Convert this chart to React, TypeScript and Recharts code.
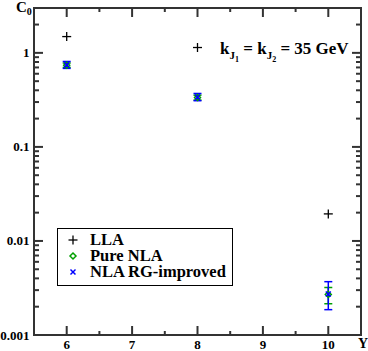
import { ScatterChart, Scatter, XAxis, YAxis, ErrorBar, ReferenceArea } from "recharts";

const rapidity = [6, 8, 10];
const llaValues = [1.49, 1.14, 0.0194];
const pureNlaValues = [0.74, 0.335, 0.0027];
const pureNlaErrLow = [0.04, 0.02, 0.00055];
const pureNlaErrHigh = [0.04, 0.02, 0.0005];
const rgValues = [0.745, 0.34, 0.00273];
const rgErrLow = [0.061, 0.03, 0.00087];
const rgErrHigh = [0.065, 0.03, 0.00096];

const xTicks = [6, 6.5, 7, 7.5, 8, 8.5, 9, 9.5, 10];
const xMajor = [6, 7, 8, 9, 10];
const yTicks = [
  0.001, 0.002, 0.003, 0.004, 0.005, 0.006, 0.007, 0.008, 0.009,
  0.01, 0.02, 0.03, 0.04, 0.05, 0.06, 0.07, 0.08, 0.09,
  0.1, 0.2, 0.3, 0.4, 0.5, 0.6, 0.7, 0.8, 0.9,
  1, 2, 3,
];
const yMajor = [0.001, 0.01, 0.1, 1];
const yMajorLabels = ["0.001", "0.01", "0.1", "1"];
const seriesNames = ["LLA", "Pure NLA", "NLA RG-improved"];

const W = 368;
const H = 351;
const LEFT = 34;
const TOP = 8;
const RIGHT = 361;
const BOTTOM = 335;
const FRAME = "#333";
const FONT = "'Liberation Serif', 'Times New Roman', serif";

const llaData = rapidity.map((x, i) => ({ x, y: llaValues[i] }));
const pureData = rapidity.map((x, i) => ({ x, y: pureNlaValues[i], err: [pureNlaErrLow[i], pureNlaErrHigh[i]] }));
const rgData = rapidity.map((x, i) => ({ x, y: rgValues[i], err: [rgErrLow[i], rgErrHigh[i]] }));

const XTick = (props: any) => {
  const { x, payload } = props;
  const major = xMajor.includes(payload.value);
  const len = major ? 9 : 4;
  return (
    <g>
      <line x1={x} x2={x} y1={BOTTOM} y2={BOTTOM - len} stroke={FRAME} strokeWidth={2} />
      <line x1={x} x2={x} y1={TOP} y2={TOP + len} stroke={FRAME} strokeWidth={2} />
      {major && (
        <text x={x} y={349} textAnchor="middle" fontFamily={FONT} fontWeight="bold" fontSize={13} fill="#000">
          {payload.value}
        </text>
      )}
    </g>
  );
};

const YTick = (props: any) => {
  const { y, payload } = props;
  const idx = yMajor.indexOf(payload.value);
  const major = idx >= 0;
  const len = major ? 9 : 5;
  return (
    <g>
      <line x1={LEFT} x2={LEFT + len} y1={y} y2={y} stroke={FRAME} strokeWidth={2} />
      <line x1={RIGHT} x2={RIGHT - len} y1={y} y2={y} stroke={FRAME} strokeWidth={2} />
      {major && (
        <text x={29.5} y={y + 4.5} textAnchor="end" fontFamily={FONT} fontWeight="bold" fontSize={13} fill="#000">
          {yMajorLabels[idx]}
        </text>
      )}
    </g>
  );
};

const PlusShape = (props: any) => {
  const { cx, cy } = props;
  return (
    <g>
      <line x1={cx - 4.5} x2={cx + 4.5} y1={cy} y2={cy} stroke="#000" strokeWidth={1.3} />
      <line x1={cx} x2={cx} y1={cy - 4.5} y2={cy + 4.5} stroke="#000" strokeWidth={1.3} />
    </g>
  );
};

const DiamondShape = (props: any) => {
  const { cx, cy } = props;
  return (
    <path
      d={`M${cx},${cy - 3} L${cx + 3},${cy} L${cx},${cy + 3} L${cx - 3},${cy} Z`}
      fill="none"
      stroke="#00a000"
      strokeWidth={1.5}
    />
  );
};

const CrossShape = (props: any) => {
  const { cx, cy } = props;
  return (
    <g>
      <line x1={cx - 2.5} x2={cx + 2.5} y1={cy - 2.5} y2={cy + 2.5} stroke="#0000ff" strokeWidth={1.5} />
      <line x1={cx - 2.5} x2={cx + 2.5} y1={cy + 2.5} y2={cy - 2.5} stroke="#0000ff" strokeWidth={1.5} />
    </g>
  );
};

const legendIcons = [
  <PlusShape cx={6} cy={6} />,
  <DiamondShape cx={6} cy={6} />,
  <CrossShape cx={6} cy={6} />,
];

const sub = (main: string, s: string) => (
  <span style={{ position: "relative" }}>
    {main}
    <span style={{ fontSize: 11, position: "relative", top: 5 }}>
      J<span style={{ fontSize: 8, position: "relative", top: 3 }}>{s}</span>
    </span>
  </span>
);

const App = () => (
  <div style={{ position: "absolute", left: 0, top: 0, width: W, height: H, background: "#fff" }}>
    <ScatterChart width={W} height={H} margin={{ top: TOP, right: W - RIGHT, bottom: 0, left: 0 }}>
      <XAxis
        dataKey="x"
        type="number"
        domain={[5.5, 10.5]}
        ticks={xTicks}
        interval={0}
        height={H - BOTTOM}
        tickLine={false}
        axisLine={false}
        tick={<XTick />}
        allowDataOverflow
      />
      <YAxis
        dataKey="y"
        type="number"
        scale="log"
        domain={[0.001, 3]}
        ticks={yTicks}
        interval={0}
        width={LEFT}
        tickLine={false}
        axisLine={false}
        tick={<YTick />}
        allowDataOverflow
      />
      <ReferenceArea x1={5.5} x2={10.5} y1={0.001} y2={3} fill="none" stroke={FRAME} strokeWidth={2} />
      <Scatter name={seriesNames[0]} data={llaData} shape={<PlusShape />} isAnimationActive={false} />
      <Scatter name={seriesNames[1]} data={pureData} shape={<DiamondShape />} isAnimationActive={false}>
        <ErrorBar dataKey="err" direction="y" width={4} stroke="#00a000" strokeWidth={1.5} />
      </Scatter>
      <Scatter name={seriesNames[2]} data={rgData} shape={<CrossShape />} isAnimationActive={false}>
        <ErrorBar dataKey="err" direction="y" width={4} stroke="#0000ff" strokeWidth={1.5} />
      </Scatter>
    </ScatterChart>

    <div style={{ position: "absolute", left: 16, top: 0, fontFamily: FONT, fontWeight: "bold", fontSize: 15, lineHeight: "15px" }}>
      C<span style={{ fontSize: 10, position: "relative", top: 3 }}>0</span>
    </div>
    <div style={{ position: "absolute", left: 358, top: 337, fontFamily: FONT, fontWeight: "bold", fontSize: 14, lineHeight: "14px" }}>Y</div>

    <div
      style={{
        position: "absolute",
        left: 220,
        top: 40,
        fontFamily: FONT,
        fontWeight: "bold",
        fontSize: 17,
        whiteSpace: "nowrap",
        lineHeight: "18px",
      }}
    >
      {sub("k", "1")} = {sub("k", "2")} = 35 GeV
    </div>

    <div
      style={{
        position: "absolute",
        left: 57,
        top: 228,
        width: 176,
        height: 58,
        border: "1.5px solid #000",
        boxSizing: "border-box",
        fontFamily: FONT,
        fontWeight: "bold",
        fontSize: 16.5,
      }}
    >
      {seriesNames.map((n, i) => (
        <div key={n} style={{ position: "absolute", left: 9, top: 3 + i * 16.3, height: 15, display: "flex", alignItems: "center", whiteSpace: "nowrap" }}>
          <svg width={12} height={12} style={{ marginRight: 11 }}>
            {legendIcons[i]}
          </svg>
          <span style={{ lineHeight: "14px", display: "inline-block", height: 14 }}>{n}</span>
        </div>
      ))}
    </div>
  </div>
);

export default App;
